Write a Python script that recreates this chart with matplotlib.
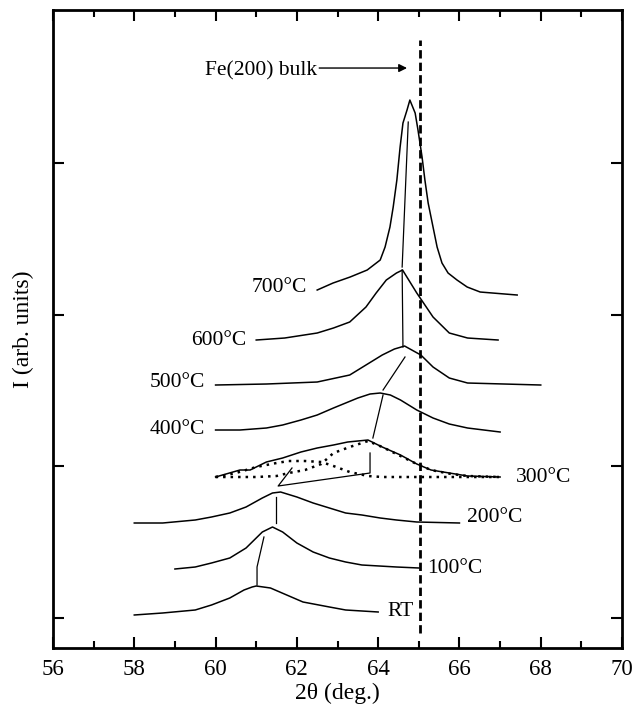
import numpy as np
import matplotlib.pyplot as plt

plt.rcParams['font.family'] = ['Liberation Serif', 'DejaVu Serif']

# 2theta (deg) and intensity above baseline (arb. units)
x_rt = [58.0, 58.7, 59.5, 59.9, 60.35, 60.7, 60.9, 61.0, 61.35, 61.75, 62.15, 62.8, 63.2, 64.0]
y_rt = [0, 2, 5, 10, 17, 25, 28, 29, 27, 20, 13, 8, 5, 3]

x_100 = [59.0, 59.5, 59.9, 60.35, 60.75, 61.0, 61.15, 61.4, 61.65, 62.0, 62.4, 62.8, 63.2, 63.6, 64.45, 65.0]
y_100 = [0, 2, 6, 11, 21, 31, 37, 42, 37, 26, 17, 11, 7, 4, 2, 1]

x_200 = [58.0, 58.7, 59.5, 59.9, 60.35, 60.75, 61.15, 61.4, 61.6, 62.0, 62.4, 62.8, 63.2, 63.6, 64.05, 64.45, 64.95, 66.0]
y_200 = [0, 0, 3, 6, 10, 16, 25, 30, 31, 26, 20, 15, 10, 8, 5, 3, 1, 0]

x_300 = [60.0, 60.6, 60.85, 61.25, 61.65, 62.1, 62.5, 62.9, 63.25, 63.75, 64.1, 64.55, 64.95, 65.3, 66.2, 67.0]
y_300 = [0, 7, 7, 15, 19, 25, 29, 32, 35, 37, 30, 22, 13, 7, 1, 0]

# fitted components of the 300 C pattern (dotted)
x_fit = [60.0, 60.5, 61.0, 61.5, 61.8, 62.2, 62.6, 62.9, 63.3, 63.75, 64.1, 64.5, 64.9, 65.3, 65.8, 66.2, 67.0]
y_fit1 = [0, 4, 10, 14, 16, 16, 15, 11, 5, 1, 0, 0, 0, 0, 0, 0, 0]
y_fit2 = [0, 0, 0, 1, 4, 7, 13, 24, 30, 36, 30, 22, 14, 7, 3, 1, 0]

x_400 = [60.0, 60.6, 61.25, 61.65, 62.1, 62.5, 62.9, 63.5, 63.8, 64.05, 64.3, 64.55, 64.95, 65.35, 65.75, 66.2, 67.0]
y_400 = [0, 0, 2, 5, 10, 15, 22, 32, 36, 37, 35, 30, 20, 12, 6, 2, -2]

x_500 = [60.0, 61.25, 62.5, 63.3, 63.7, 64.1, 64.4, 64.65, 65.05, 65.35, 65.75, 66.2, 68.0]
y_500 = [0, 1, 3, 10, 20, 30, 36, 39, 30, 18, 7, 2, 0]

x_600 = [61.0, 61.7, 62.5, 62.9, 63.3, 63.7, 63.95, 64.2, 64.45, 64.6, 64.95, 65.35, 65.75, 66.2, 66.95]
y_600 = [0, 2, 7, 12, 18, 33, 47, 60, 67, 70, 47, 23, 7, 2, 0]

x_700 = [62.5, 62.89, 63.31, 63.73, 64.05, 64.17, 64.29, 64.37, 64.46, 64.54, 64.61, 64.71, 64.78,
         64.91, 64.98, 65.08, 65.15, 65.23, 65.33, 65.45, 65.57, 65.72, 65.94, 66.19, 66.51, 67.42]
y_700 = [0, 7, 13, 20, 30, 43, 63, 83, 110, 143, 167, 180, 190,
         177, 160, 133, 110, 87, 67, 43, 27, 17, 10, 3, -2, -5]

curves = [(x_rt, y_rt), (x_100, y_100), (x_200, y_200), (x_300, y_300),
          (x_400, y_400), (x_500, y_500), (x_600, y_600), (x_700, y_700)]
offsets = [3, 49, 95, 141, 188, 233, 278, 328]
labels = ['RT', '100°C', '200°C', '300°C', '400°C', '500°C', '600°C', '700°C']
label_x = [64.22, 65.2, 66.19, 67.4, 59.74, 59.74, 60.77, 62.25]
label_y = [6, 49, 101, 141, 189, 236, 278, 331]
label_ha = ['left', 'left', 'left', 'left', 'right', 'right', 'right', 'right']

# peak-shift guide lines
guides = [
    ([61.02, 61.02, 61.19], [33, 51, 81]),
    ([61.49, 61.49], [95, 121]),
    ([61.88, 61.54, 63.80, 63.80], [150, 132, 145, 165]),
    ([63.87, 64.12], [180, 223]),
    ([64.12, 64.66], [228, 261]),
    ([64.61, 64.59], [271, 348]),
    ([64.59, 64.74], [351, 496]),
]

bulk_pos = 65.02

fig = plt.figure(figsize=(6.33, 7.12), dpi=100)
ax = fig.add_axes([0.0837, 0.0899, 0.899, 0.896])

for (xs, ys), off in zip(curves, offsets):
    ax.plot(xs, np.array(ys) + off, color='black', lw=1.1)

ax.plot(x_fit, np.array(y_fit1) + offsets[3], color='black', lw=1.8, ls=(0, (1, 2)))
ax.plot(x_fit, np.array(y_fit2) + offsets[3], color='black', lw=1.8, ls=(0, (1, 2)))

for gx, gy in guides:
    ax.plot(gx, gy, color='black', lw=0.9)

for lab, lx, ly, ha in zip(labels, label_x, label_y, label_ha):
    ax.text(lx, ly, lab, ha=ha, va='center', fontsize=15.5)

ax.plot([bulk_pos, bulk_pos], [-15, 578], color='black', lw=2, ls=(0, (3, 1.5)))
ax.annotate('', xy=(64.71, 550), xytext=(62.55, 550),
            arrowprops=dict(arrowstyle='-|>', color='black', lw=1.0,
                            mutation_scale=12, shrinkA=0, shrinkB=0))
ax.text(62.5, 547, 'Fe(200) bulk', ha='right', va='center', fontsize=15.5)

ax.set_xlim(56, 70)
ax.set_ylim(-30, 608)
ax.set_xticks(np.arange(56, 71, 2))
ax.set_xticks(np.arange(57, 70, 2), minor=True)
ax.set_yticks([0, 152, 303, 455])
ax.set_yticklabels([])
ax.tick_params(which='both', direction='in', top=True, right=True, width=1.5,
               labelsize=16.5, pad=8)
ax.tick_params(which='major', length=8)
ax.tick_params(which='minor', length=5)
for s in ax.spines.values():
    s.set_linewidth(2)

ax.set_xlabel('2θ (deg.)', fontsize=17, labelpad=2)
ax.set_ylabel('I (arb. units)', fontsize=17, labelpad=6)

fig.savefig('out.png', dpi=100)
